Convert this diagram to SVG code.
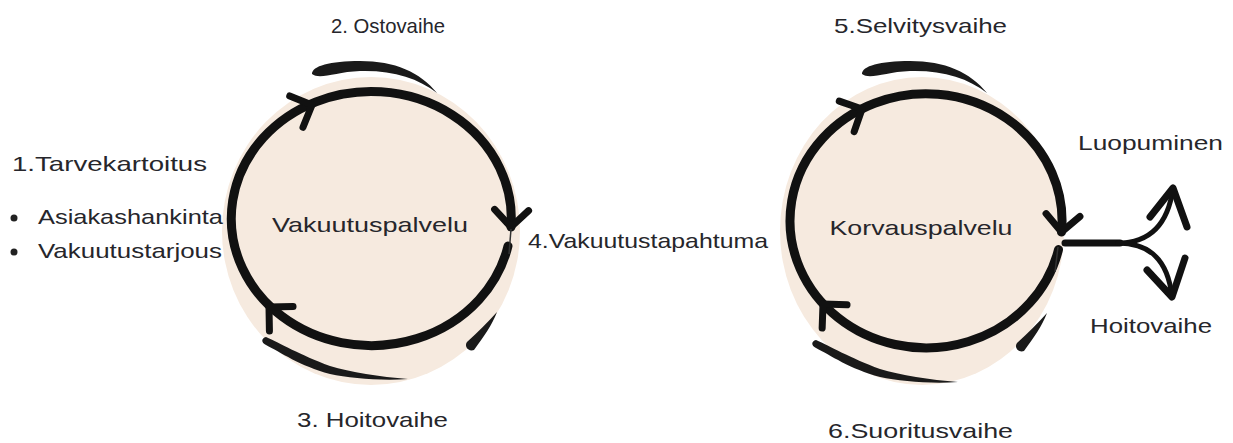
<svg xmlns="http://www.w3.org/2000/svg" width="1233" height="443" viewBox="0 0 1233 443">
<defs>
<style>
.bg{fill:#f6eadf}
.ring{fill:none;stroke:#111;stroke-width:9;stroke-linecap:round}
.chev{fill:none;stroke:#111;stroke-width:7;stroke-linecap:round;stroke-linejoin:round}
.brush{fill:#1a1a1a}
.trail{fill:none;stroke:#333;stroke-width:1.5}
.t{font-family:"Liberation Sans",Arial,sans-serif;font-size:21px;fill:#26262b}
.c{text-anchor:middle}
</style>
<path id="chevron" d="M -17 -17 L 0 0 L -17 17"/>
<path id="topBrush" d="M 312 74 C 312 66 330 61 360 61 C 395 61 420 72 437 93 C 418 78 392 70 360 71 C 335 72 320 80 312 74 Z"/>
<path id="botBrush" d="M 266 337 C 280 343 300 355 330 366 C 350 372 380 377 408 379 C 380 381 350 378 330 374 C 300 366 280 352 266 345 C 261 343 261 338 266 337 Z"/>
<path id="sideBrush" d="M 497 312 C 492 325 485 335 474 350 C 468 352 464 346 467 342 C 478 332 488 322 497 312 Z"/>
</defs>
<rect width="1233" height="443" fill="#ffffff"/>

<g id="vakuutuspalvelu">
<ellipse class="bg" cx="371" cy="231" rx="149" ry="154"/>
<path class="ring" d="M 508 246 A 140 127 0 1 1 511 227"/>
<use href="#chevron" class="chev" transform="translate(511 227) rotate(92)"/>
<use href="#chevron" class="chev" transform="translate(312 105) rotate(-23)"/>
<use href="#chevron" class="chev" transform="translate(269 307) rotate(-136)"/>
<path class="trail" d="M 511 229 L 509 254"/>
<use href="#topBrush" class="brush"/>
<use href="#botBrush" class="brush"/>
<use href="#sideBrush" class="brush"/>
<text class="t c" x="370" y="232" textLength="196" lengthAdjust="spacingAndGlyphs" font-size="22">Vakuutuspalvelu</text>
</g>

<g id="korvauspalvelu">
<ellipse class="bg" cx="922" cy="231" rx="142" ry="154"/>
<path class="ring" d="M 1058.5 249.6 A 136 127 0 1 1 1061.5 232.1"/>
<use href="#chevron" class="chev" transform="translate(1061.5 232) rotate(95)"/>
<use href="#chevron" class="chev" transform="translate(862 109) rotate(-26)"/>
<use href="#chevron" class="chev" transform="translate(823 304) rotate(-133)"/>
<path class="trail" d="M 1058 247 L 1055 272"/>
<use href="#topBrush" class="brush" transform="translate(550 0)"/>
<use href="#botBrush" class="brush" transform="translate(550 3)"/>
<use href="#sideBrush" class="brush" transform="translate(550 1)"/>
<text class="t c" x="921" y="235" textLength="183" lengthAdjust="spacingAndGlyphs" font-size="22">Korvauspalvelu</text>
</g>

<g id="connectors">
<path d="M 1065 243 L 1120 243" fill="none" stroke="#111" stroke-width="7" stroke-linecap="round"/>
<path d="M 1118 243 C 1150 243 1168 225 1173 188" fill="none" stroke="#111" stroke-width="5" stroke-linecap="round"/>
<path d="M 1118 243 C 1150 243 1168 260 1172 297" fill="none" stroke="#111" stroke-width="5" stroke-linecap="round"/>
<path class="chev" d="M 1150 217 L 1173 188 L 1187 227"/>
<path class="chev" d="M 1147 270 L 1172 297 L 1185 258"/>
</g>

<g id="labels">
<text class="t" x="331" y="33" textLength="114" lengthAdjust="spacingAndGlyphs" font-size="22">2. Ostovaihe</text>
<text class="t" x="834" y="33" textLength="173" lengthAdjust="spacingAndGlyphs">5.Selvitysvaihe</text>
<text class="t" x="12" y="171" textLength="195" lengthAdjust="spacingAndGlyphs">1.Tarvekartoitus</text>
<circle cx="14" cy="218" r="3.5" fill="#222"/>
<text class="t" x="38" y="224" textLength="185" lengthAdjust="spacingAndGlyphs" font-size="20">Asiakashankinta</text>
<circle cx="14" cy="252" r="3.5" fill="#222"/>
<text class="t" x="38" y="258" textLength="184" lengthAdjust="spacingAndGlyphs" font-size="20">Vakuutustarjous</text>
<text class="t" x="528" y="248" textLength="240" lengthAdjust="spacingAndGlyphs">4.Vakuutustapahtuma</text>
<text class="t" x="297" y="427" textLength="151" lengthAdjust="spacingAndGlyphs">3. Hoitovaihe</text>
<text class="t" x="828" y="438" textLength="185" lengthAdjust="spacingAndGlyphs">6.Suoritusvaihe</text>
<text class="t" x="1078" y="150" textLength="145" lengthAdjust="spacingAndGlyphs">Luopuminen</text>
<text class="t" x="1090" y="333" textLength="122" lengthAdjust="spacingAndGlyphs">Hoitovaihe</text>
</g>
</svg>
